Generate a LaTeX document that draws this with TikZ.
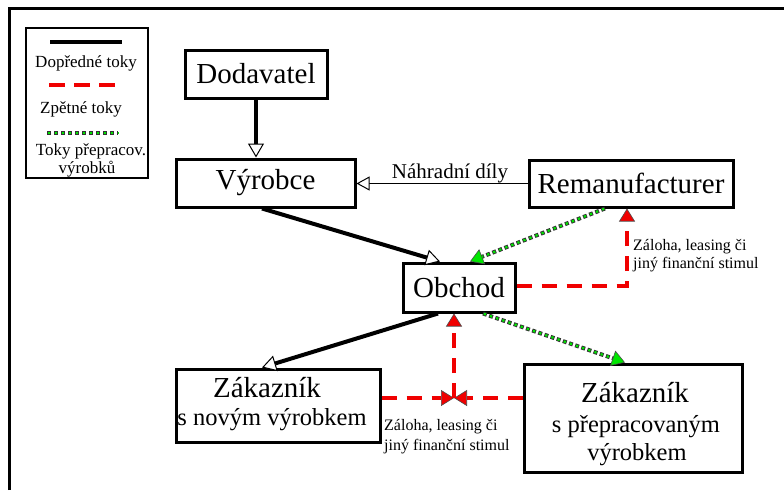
\documentclass[tikz,border=0pt]{standalone}
\usepackage{fontspec}
\setmainfont{Liberation Serif}
\usetikzlibrary{arrows.meta,calc}
\newcommand\myfs[1]{\fontsize{#1}{#1}\selectfont}
\definecolor{rgreen}{RGB}{0,230,0}
\definecolor{rred}{RGB}{240,0,0}
\begin{document}
\begin{tikzpicture}[x=1pt,y=-1pt,
  box/.style={draw, line width=3pt, fill=white, inner sep=0pt, font=\myfs{29}},
  txt/.style={inner sep=0pt, anchor=base},
  fwd/.style={line width=4pt, -{Triangle[length=14pt, width=16pt, line width=1pt, fill=white]}},
  thinfwd/.style={line width=1.5pt, -{Triangle[length=13pt, width=14pt, line width=1pt, fill=white]}},
  back/.style={draw=rred, line width=4pt, dash pattern=on 15pt off 10pt,
    -{Triangle[length=13pt, width=16pt, line width=0.6pt, color=black!70, fill=rred]}},
  backnt/.style={draw=rred, line width=4pt, dash pattern=on 15pt off 10pt},
  dotsb/.style={draw=black!80, line width=4pt, dash pattern=on 4pt off 2.5pt},
  dotsg/.style={draw=rgreen, line width=2.2pt, dash pattern=on 2.2pt off 4.3pt, dash phase=-0.9pt},
  greentip/.style={-{Triangle[length=13pt, width=16pt, line width=0.6pt, color=black!70, fill=rgreen]}}
]
\useasboundingbox (0,0) rectangle (784,490);
% outer frame
\draw[line width=3pt] (9,490) coordinate (fa) -- (9,8) coordinate (fb) -- (784,8) coordinate (fc);

% legend
\node[draw, line width=2pt, inner sep=0pt, minimum width=122pt, minimum height=150pt] (legend) at (87,103) {};
\coordinate (l1a) at (50,42); \coordinate (l1b) at (122,42);
\draw[line width=4pt] (l1a) -- (l1b);
\node[txt, font=\myfs{17}] (lt1) at (86,67) {Dopředné toky};
\coordinate (l2a) at (49,85); \coordinate (l2b) at (115,85);
\draw[backnt, dash pattern=on 16pt off 9pt] (l2a) -- (l2b);
\node[txt, font=\myfs{17}] (lt2) at (81,113) {Zpětné toky};
\coordinate (l3a) at (47,133); \coordinate (l3b) at (118,133);
\draw[dotsb, dash pattern=on 4pt off 3pt] (l3a) -- (l3b);
\draw[dotsg, dash pattern=on 2.2pt off 4.8pt] (l3a) -- (l3b);
\node[txt, font=\myfs{17}] (lt3) at (91,155) {Toky přepracov.};
\node[txt, font=\myfs{17}] (lt4) at (87,173) {výrobků};

% boxes
\node[box, minimum width=142pt, minimum height=48pt] (dod) at (256,74) {Dodavatel};
\node[box, minimum width=179pt, minimum height=48pt] (vyr) at (265.5,183) {Výrobce};
\node[box, minimum width=204pt, minimum height=47pt] (rem) at (631,183.5) {Remanufacturer};
\node[box, minimum width=112pt, minimum height=49pt] (obch) at (459,287.5) {Obchod};
\node[box, minimum width=204pt, minimum height=73pt] (zn) at (278,405.5) {};
\node[box, minimum width=218pt, minimum height=108pt] (zp) at (633,418) {};
\node[txt, font=\myfs{29}] (zn1) at (267,397) {Zákazník};
\node[txt, font=\myfs{24.5}] (zn2) at (272,425) {s novým výrobkem};
\node[txt, font=\myfs{29}] (zp1) at (635,402) {Zákazník};
\node[txt, font=\myfs{24.5}] (zp2) at (636,432) {s přepracovaným};
\node[txt, font=\myfs{24.5}] (zp3) at (637,460) {výrobkem};

% forward flows
\draw[fwd] (dod.south) -- (dod.south |- vyr.north);
\draw[thinfwd] (rem.west) -- (rem.west -| vyr.east);
\node[txt, font=\myfs{21}] (nd) at (450,178) {Náhradní díly};
\draw[fwd] ($(vyr.south)+(-3.5,0)$) -- ($(obch.north)+(-19,0)$);
\draw[fwd] ($(obch.south)+(-21,0)$) -- ($(zn.north)+(-16,0)$);

% remanufactured product flows
\coordinate (g1a) at ($(rem.south)+(-26,0)$);
\coordinate (g1b) at ($(obch.north)+(11,0)$);
\draw[dotsb, shorten >=11pt] (g1a) -- (g1b);
\draw[dotsg, greentip] (g1a) -- (g1b);
\coordinate (g2a) at ($(obch.south)+(24,0)$);
\coordinate (g2b) at ($(zp.north)+(-8,0)$);
\draw[dotsb, shorten >=11pt] (g2a) -- (g2b);
\draw[dotsg, greentip] (g2a) -- (g2b);

% backward flows
\draw[back] ($(obch.east)+(0,-2)$) -| ($(rem.south)+(-4,0)$);
\node[txt, anchor=base west, font=\myfs{16}] (za1) at (633,250) {Záloha, leasing či};
\node[txt, anchor=base west, font=\myfs{16}] (za2) at (633,268) {jiný finanční stimul};
\coordinate (J) at (454,398);
\draw[back] (zn.east |- J) -- (J);
\draw[back] (zp.west |- J) -- (J);
\draw[back] (J) -- (J |- obch.south);
\node[txt, anchor=base west, font=\myfs{16}] (zb1) at (384,430) {Záloha, leasing či};
\node[txt, anchor=base west, font=\myfs{16}] (zb2) at (384,450) {jiný finanční stimul};
\end{tikzpicture}
\end{document}
